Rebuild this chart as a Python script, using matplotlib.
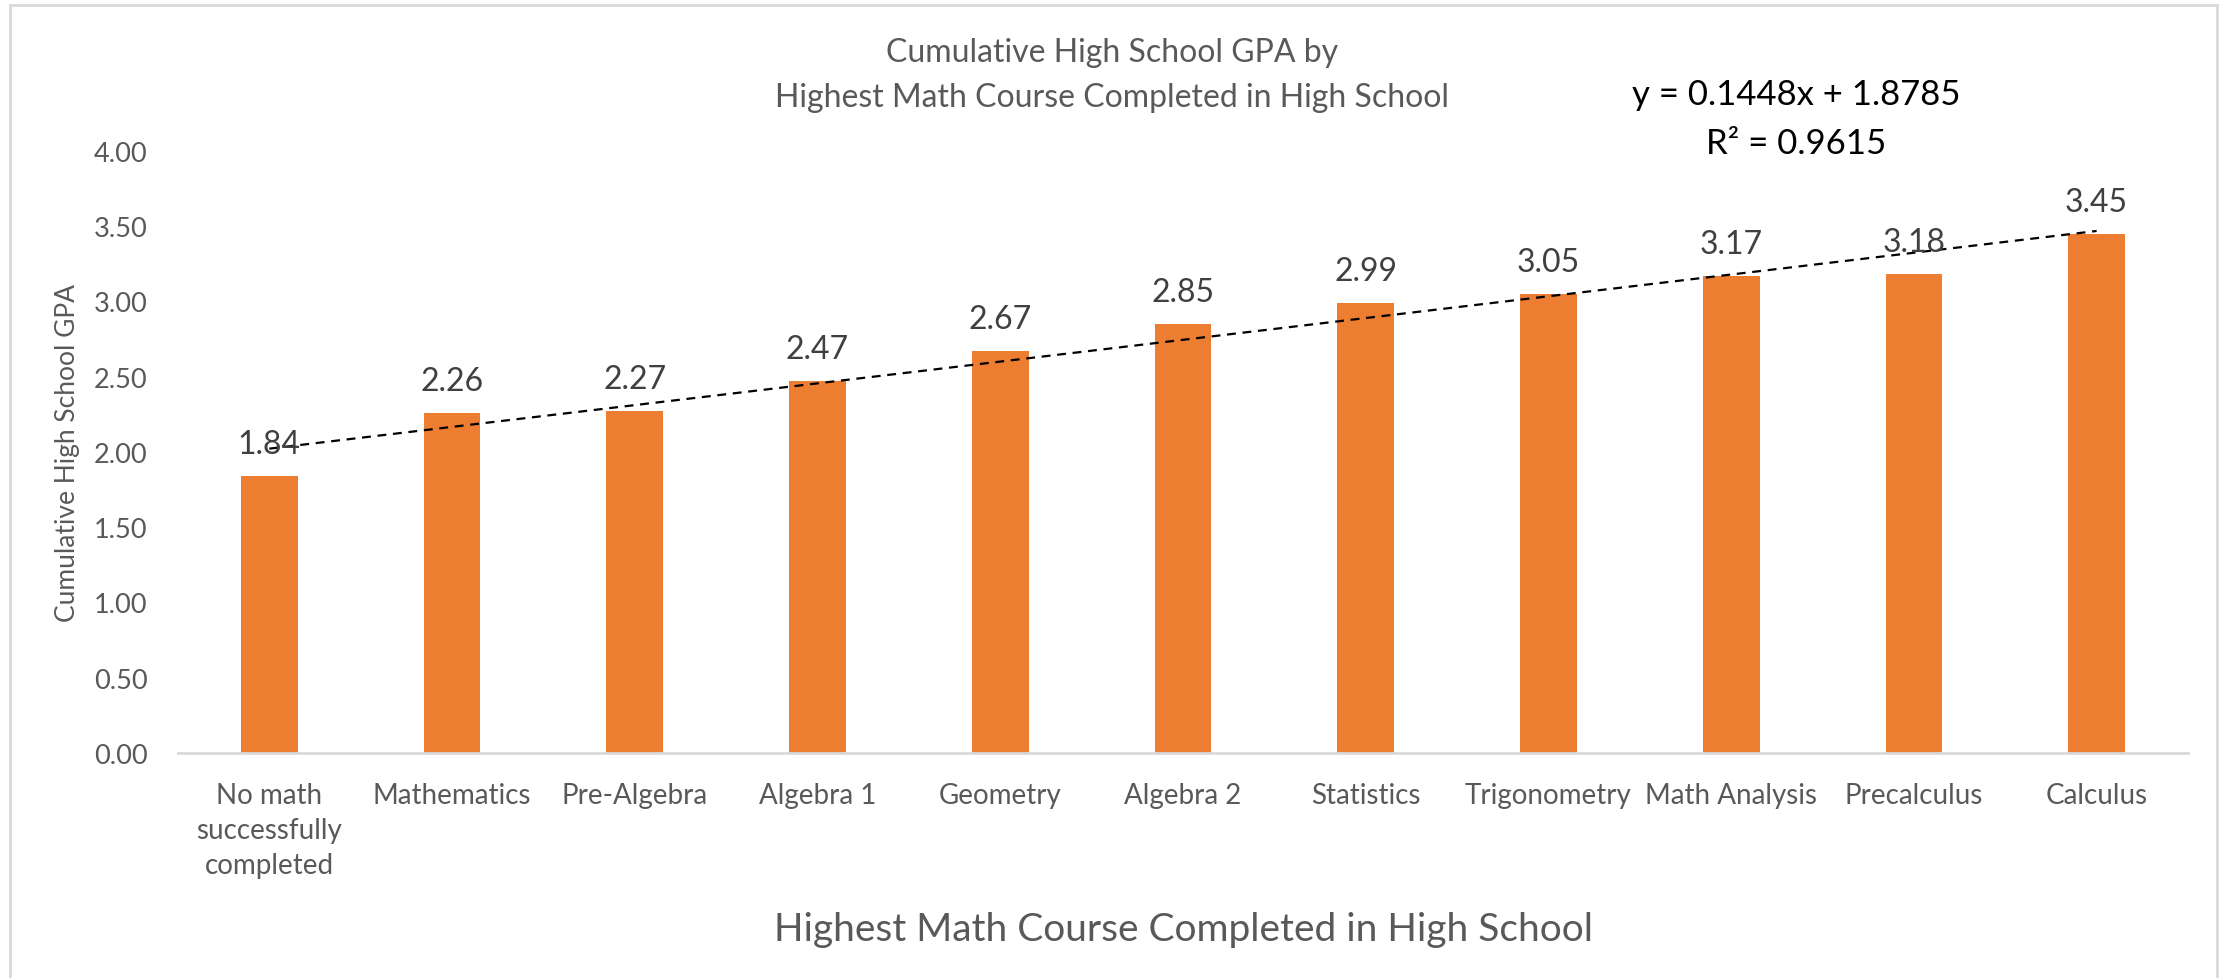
import matplotlib.pyplot as plt
import numpy as np
from matplotlib.patches import Rectangle

courses = ['No math\nsuccessfully\ncompleted', 'Mathematics', 'Pre-Algebra', 'Algebra 1',
           'Geometry', 'Algebra 2', 'Statistics', 'Trigonometry', 'Math Analysis',
           'Precalculus', 'Calculus']
gpa = [1.84, 2.26, 2.27, 2.47, 2.67, 2.85, 2.99, 3.05, 3.17, 3.18, 3.45]
y_ticks = [0.0, 0.5, 1.0, 1.5, 2.0, 2.5, 3.0, 3.5, 4.0]
title_lines = ['Cumulative High School GPA by', 'Highest Math Course Completed in High School']
equation_lines = ['y = 0.1448x + 1.8785', 'R² = 0.9615']

plt.rcParams['font.family'] = ['Lato', 'DejaVu Sans']

W, H = 2224, 979
fig = plt.figure(figsize=(W / 100, H / 100), dpi=100)
ax = fig.add_axes([178 / W, 1 - 754 / H, 2010 / W, 602 / H])

x = np.arange(1, len(gpa) + 1)
ax.bar(x, gpa, width=0.31, color='#ED7D31', zorder=2)

for xi, v in zip(x, gpa):
    ax.annotate(f'{v:.2f}', (xi, v), xytext=(0, 16.5), textcoords='offset points',
                ha='center', va='baseline', fontsize=23, color='#404040', zorder=4)

# linear trendline
slope, intercept = np.polyfit(x, gpa, 1)
ax.plot([x[0], x[-1]], [slope * x[0] + intercept, slope * x[-1] + intercept],
        color='black', linestyle=(0, (4, 3)), linewidth=1.6, zorder=3)

ax.set_xlim(0.5, len(gpa) + 0.5)
ax.set_ylim(0, 4.0)
ax.set_yticks(y_ticks)
ax.set_yticklabels([f'{t:.2f}' for t in y_ticks])
ax.set_xticks(x)
ax.set_xticklabels(courses, linespacing=1.42)
ax.tick_params(axis='both', length=0, colors='#595959')
ax.tick_params(axis='x', pad=21, labelsize=20)
ax.tick_params(axis='y', pad=22, labelsize=19.5)

for s in ['top', 'right', 'left']:
    ax.spines[s].set_visible(False)
ax.spines['bottom'].set_color('#d9d9d9')
ax.spines['bottom'].set_linewidth(2)

ax.set_ylabel('Cumulative High School GPA', fontsize=19, color='#595959')
ax.yaxis.set_label_coords(-0.0488, 0.5)

fig.text(1183 / W, 1 - 941 / H, 'Highest Math Course Completed in High School',
         ha='center', va='baseline', fontsize=28, color='#595959')
for line, yb in zip(title_lines, [62, 107]):
    fig.text(1112 / W, 1 - yb / H, line, ha='center', va='baseline',
             fontsize=23, color='#595959')
for line, yb in zip(equation_lines, [105, 154]):
    fig.text(1796 / W, 1 - yb / H, line, ha='center', va='baseline',
             fontsize=25, color='black')

fig.patches.append(Rectangle((10 / W, -0.01), 2207 / W, 1.01 - 6 / H,
                             transform=fig.transFigure, fill=False,
                             edgecolor='#d9d9d9', linewidth=2))

fig.savefig('out.png', dpi=100)
